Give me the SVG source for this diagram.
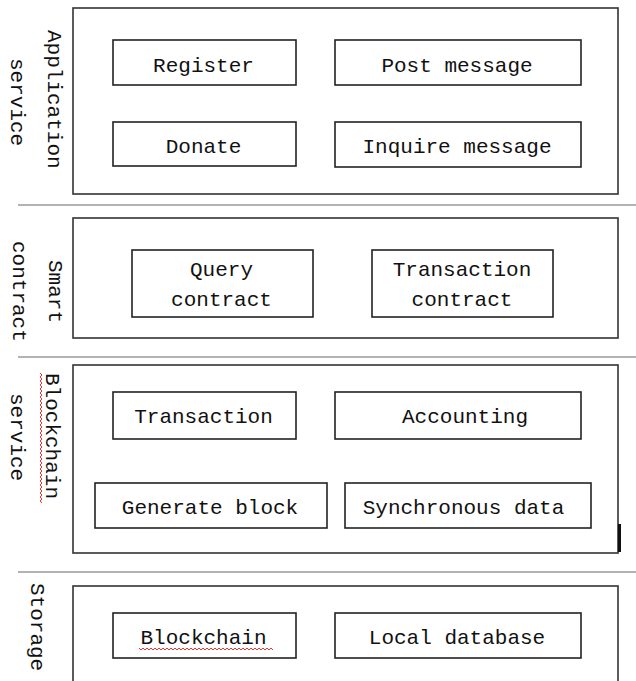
<svg xmlns="http://www.w3.org/2000/svg" width="636" height="681" viewBox="0 0 636 681">
<style>
.frame{fill:#fff;stroke:#333;stroke-width:1.6}
.box{fill:#fff;stroke:#222;stroke-width:1.6}
.sep{stroke:#999;stroke-width:1.5}
text{font-family:"Liberation Mono","DejaVu Sans Mono",monospace;font-size:21px;fill:#111}
.c{text-anchor:middle}
.wavy{fill:none;stroke:#e33;stroke-width:1}
</style>
<rect x="0" y="0" width="636" height="681" fill="#fff"/>
<g id="separators">
<line class="sep" x1="18" y1="205" x2="636" y2="205"/>
<line class="sep" x1="18" y1="357" x2="636" y2="357"/>
<line class="sep" x1="18" y1="572" x2="636" y2="572"/>
</g>
<g id="layer-application">
<rect class="frame" x="73" y="8" width="545" height="186"/>
<text transform="translate(48,30) rotate(90)">Application</text>
<text transform="translate(11,58) rotate(90)">service</text>
</g>
<g id="node-register"><rect class="box" x="113" y="40" width="183" height="45"/><text class="c" x="203.5" y="72">Register</text></g>
<g id="node-post"><rect class="box" x="335" y="40" width="246" height="45"/><text class="c" x="457" y="72">Post message</text></g>
<g id="node-donate"><rect class="box" x="113" y="122" width="183" height="44"/><text class="c" x="203.5" y="153">Donate</text></g>
<g id="node-inquire"><rect class="box" x="335" y="122" width="246" height="45"/><text class="c" x="457" y="153">Inquire message</text></g>

<g id="layer-smart">
<rect class="frame" x="73" y="218" width="545" height="120"/>
<text transform="translate(49,260) rotate(90)">Smart</text>
<text transform="translate(13,241) rotate(90)">contract</text>
</g>
<g id="node-query"><rect class="box" x="132" y="250" width="181" height="67"/><text class="c" x="221.5" y="276">Query</text><text class="c" x="221.5" y="306">contract</text></g>
<g id="node-txcontract"><rect class="box" x="372" y="250" width="181" height="67"/><text class="c" x="462" y="276">Transaction</text><text class="c" x="462" y="306">contract</text></g>

<g id="layer-blockchain">
<rect class="frame" x="73" y="365" width="545" height="188"/>
<rect x="618" y="524" width="3" height="28" fill="#111"/>
<text transform="translate(46,373) rotate(90)">Blockchain</text>
<path class="wavy" d="M40,373 l2,2 l-2,2 l2,2 l-2,2 l2,2 l-2,2 l2,2 l-2,2 l2,2 l-2,2 l2,2 l-2,2 l2,2 l-2,2 l2,2 l-2,2 l2,2 l-2,2 l2,2 l-2,2 l2,2 l-2,2 l2,2 l-2,2 l2,2 l-2,2 l2,2 l-2,2 l2,2 l-2,2 l2,2 l-2,2 l2,2 l-2,2 l2,2 l-2,2 l2,2 l-2,2 l2,2 l-2,2 l2,2 l-2,2 l2,2 l-2,2 l2,2 l-2,2 l2,2 l-2,2 l2,2 l-2,2 l2,2 l-2,2 l2,2 l-2,2 l2,2 l-2,2 l2,2 l-2,2 l2,2 l-2,2 l2,2 l-2,2 l2,2 l-2,2 l2,2"/>
<text transform="translate(11,393) rotate(90)">service</text>
</g>
<g id="node-transaction"><rect class="box" x="113" y="392" width="183" height="47"/><text class="c" x="203.5" y="423">Transaction</text></g>
<g id="node-accounting"><rect class="box" x="335" y="392" width="246" height="47"/><text class="c" x="465" y="423">Accounting</text></g>
<g id="node-generate"><rect class="box" x="95" y="483" width="232" height="45"/><text class="c" x="210" y="514">Generate block</text></g>
<g id="node-sync"><rect class="box" x="345" y="483" width="246" height="45"/><text class="c" x="463.5" y="514">Synchronous data</text></g>

<g id="layer-storage">
<rect class="frame" x="73" y="586" width="545" height="110"/>
<text transform="translate(31,583) rotate(90)">Storage</text>
</g>
<g id="node-blockchain"><rect class="box" x="113" y="613" width="183" height="45"/><text class="c" x="203.5" y="644">Blockchain</text>
<path class="wavy" d="M139,648 l2,2 l2,-2 l2,2 l2,-2 l2,2 l2,-2 l2,2 l2,-2 l2,2 l2,-2 l2,2 l2,-2 l2,2 l2,-2 l2,2 l2,-2 l2,2 l2,-2 l2,2 l2,-2 l2,2 l2,-2 l2,2 l2,-2 l2,2 l2,-2 l2,2 l2,-2 l2,2 l2,-2 l2,2 l2,-2 l2,2 l2,-2 l2,2 l2,-2 l2,2 l2,-2 l2,2 l2,-2 l2,2 l2,-2 l2,2 l2,-2 l2,2 l2,-2 l2,2 l2,-2 l2,2 l2,-2 l2,2 l2,-2 l2,2 l2,-2 l2,2 l2,-2 l2,2 l2,-2 l2,2 l2,-2 l2,2 l2,-2 l2,2 l2,-2 l2,2 l2,-2 l2,2"/></g>
<g id="node-localdb"><rect class="box" x="335" y="613" width="246" height="45"/><text class="c" x="457" y="644">Local database</text></g>
<g id="connectors"></g>
</svg>
